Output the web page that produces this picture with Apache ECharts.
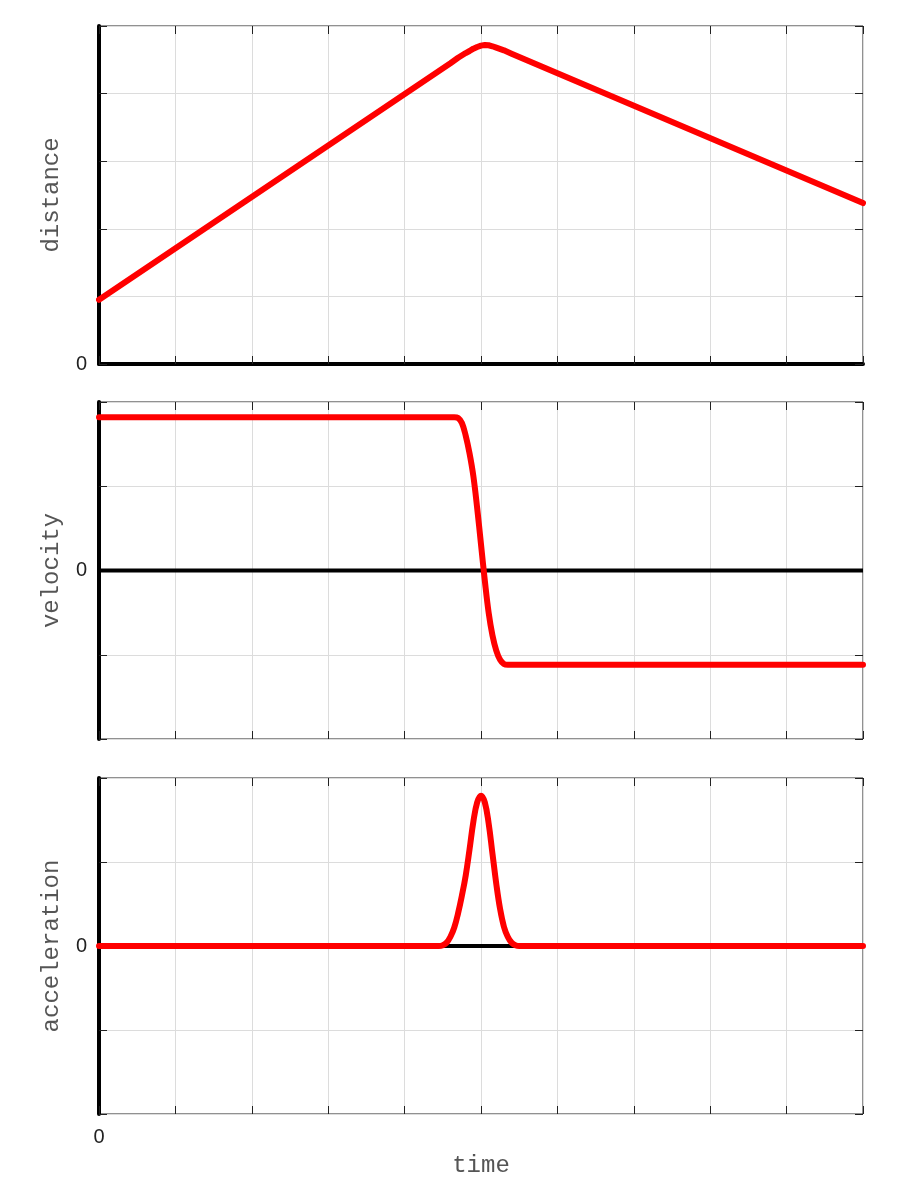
<!DOCTYPE html>
<html>
<head>
<meta charset="utf-8">
<script src="https://cdn.jsdelivr.net/npm/echarts@6/dist/echarts.min.js"></script>
<style>html,body{margin:0;padding:0;background:#fff}#c{width:900px;height:1200px}</style>
</head>
<body>
<div id="c"></div>
<script>
// time samples and values
const distT = [0, 4.6, 4.7, 4.8, 4.85, 4.9, 4.95, 5.0, 5.05, 5.1, 5.15, 5.2, 5.3, 5.4, 10];
const distV = [0.95, 4.45, 4.53, 4.60, 4.63, 4.665, 4.69, 4.71, 4.72, 4.715, 4.70, 4.68, 4.64, 4.59, 2.38];

const velT = [0, 4.65, 4.7, 4.75, 4.8, 4.85, 4.9, 4.95, 5.0, 5.05, 5.1, 5.15, 5.2, 5.25, 5.3, 5.35, 10];
const velV = [1.82, 1.82, 1.81, 1.75, 1.60, 1.39, 1.12, 0.74, 0.31, -0.12, -0.50, -0.77, -0.95, -1.06, -1.11, -1.12, -1.12];

const accT = [0, 4.45, 4.5, 4.55, 4.6, 4.65, 4.7, 4.75, 4.8, 4.85, 4.9, 4.95, 5.0, 5.05, 5.1, 5.15, 5.2, 5.25, 5.3, 5.35, 5.4, 5.45, 5.5, 10];
const accV = [0, 0, 0.01, 0.04, 0.11, 0.22, 0.39, 0.60, 0.84, 1.15, 1.48, 1.71, 1.79, 1.71, 1.46, 1.10, 0.74, 0.44, 0.23, 0.11, 0.04, 0.01, 0, 0];

const zeroT = [0, 10];
const zeroV = [0, 0];

const yNames = ['distance', 'velocity', 'acceleration'];
const xName = 'time';

const pair = (t, v) => t.map((x, i) => [x, v[i]]);

const grids = [
  {left: 99, top: 26, width: 764, height: 338},
  {left: 99, top: 402, width: 764, height: 337},
  {left: 99, top: 778, width: 764, height: 336}
];
const yRanges = [[0, 5], [-2, 2], [-2, 2]];
const monoFont = '"Liberation Mono", "Courier New", monospace';
const sansFont = '"Liberation Sans", Arial, sans-serif';

const option = {
  animation: false,
  backgroundColor: '#fff',
  grid: grids.map(g => Object.assign({show: true, borderColor: '#222', borderWidth: 1, backgroundColor: 'transparent'}, g)),
  xAxis: [],
  yAxis: [],
  series: []
};

grids.forEach((g, i) => {
  const last = i === 2;
  option.xAxis.push({
    type: 'value', gridIndex: i, min: 0, max: 10, interval: 1, position: 'bottom',
    axisLine: {show: i === 0, onZero: false, lineStyle: {color: '#000', width: 4}},
    axisTick: {show: true, inside: true, length: 8, lineStyle: {color: '#222', width: 1}},
    axisLabel: {show: last, margin: 13, fontSize: 20, color: '#222', fontFamily: sansFont,
      formatter: v => (v === 0 ? '0' : '')},
    splitLine: {show: true, lineStyle: {color: '#dcdcdc', width: 1}},
    name: last ? xName : '', nameLocation: 'middle', nameGap: 40,
    nameTextStyle: {fontSize: 24, color: '#555', fontFamily: monoFont}
  });
  option.xAxis.push({
    type: 'value', gridIndex: i, min: 0, max: 10, interval: 1, position: 'top',
    axisLine: {show: false, onZero: false},
    axisTick: {show: true, inside: true, length: 8, lineStyle: {color: '#222', width: 1}},
    axisLabel: {show: false}, splitLine: {show: false}
  });
  const [mn, mx] = yRanges[i];
  option.yAxis.push({
    type: 'value', gridIndex: i, min: mn, max: mx, interval: 1, position: 'left',
    axisLine: {show: true, onZero: false, lineStyle: {color: '#000', width: 4}},
    axisTick: {show: true, inside: true, length: 8, lineStyle: {color: '#222', width: 1}},
    axisLabel: {show: true, margin: 12, fontSize: 20, color: '#222', fontFamily: sansFont,
      formatter: v => (v === 0 ? '0' : '')},
    splitLine: {show: true, lineStyle: {color: '#dcdcdc', width: 1}},
    name: yNames[i], nameLocation: 'middle', nameGap: 35,
    nameTextStyle: {fontSize: 24, color: '#555', fontFamily: monoFont}
  });
  option.yAxis.push({
    type: 'value', gridIndex: i, min: mn, max: mx, interval: 1, position: 'right',
    axisLine: {show: false, onZero: false},
    axisTick: {show: true, inside: true, length: 8, lineStyle: {color: '#222', width: 1}},
    axisLabel: {show: false}, splitLine: {show: false}
  });
});

const seriesData = [pair(distT, distV), pair(velT, velV), pair(accT, accV)];
seriesData.forEach((d, i) => {
  if (i > 0) {
    option.series.push({
      type: 'line', xAxisIndex: i * 2, yAxisIndex: i * 2, data: pair(zeroT, zeroV),
      showSymbol: false, z: 1, silent: true,
      lineStyle: {color: '#000', width: 4}
    });
  }
  option.series.push({
    type: 'line', xAxisIndex: i * 2, yAxisIndex: i * 2, data: d,
    showSymbol: false, smooth: i === 0 ? false : 0.4, z: 3,
    lineStyle: {color: '#ff0000', width: 6, cap: 'round', join: 'round'}
  });
});

const chart = echarts.init(document.getElementById('c'), null, {renderer: 'canvas'});
chart.setOption(option);
</script>
</body>
</html>
